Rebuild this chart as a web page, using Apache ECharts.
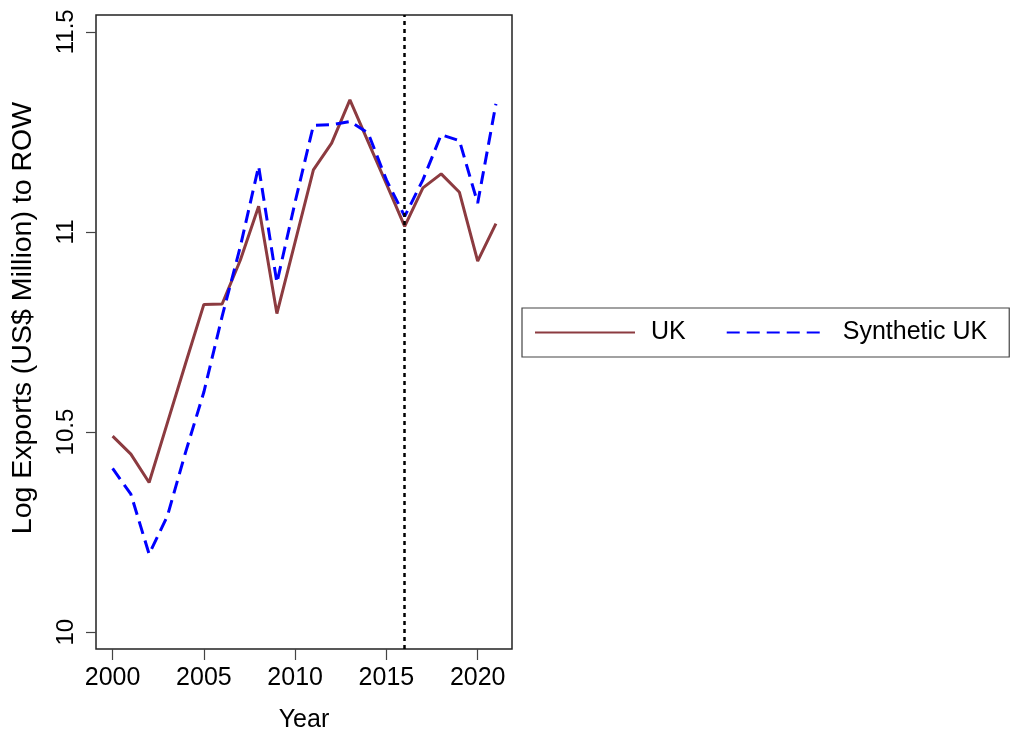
<!DOCTYPE html>
<html>
<head>
<meta charset="utf-8">
<script src="https://cdn.jsdelivr.net/npm/echarts@6/dist/echarts.min.js"></script>
<style>
  html, body { margin: 0; padding: 0; background: #fff; }
  #chart { width: 1011px; height: 738px; }
</style>
</head>
<body>
<div id="chart"></div>
<script>
var years = [2000, 2001, 2002, 2003, 2004, 2005, 2006, 2007, 2008, 2009, 2010,
  2011, 2012, 2013, 2014, 2015, 2016, 2017, 2018, 2019, 2020, 2021]
var uk = [10.49, 10.445, 10.374, 10.523, 10.672, 10.819, 10.82, 10.93, 11.064, 10.796, 10.975,
  11.155, 11.222, 11.33, 11.225, 11.12, 11.014, 11.11, 11.145, 11.099, 10.927, 11.021]
var synthUk = [10.409, 10.345, 10.195, 10.29, 10.45, 10.6, 10.789, 10.964, 11.164, 10.873, 11.075,
  11.266, 11.268, 11.276, 11.247, 11.13, 11.039, 11.13, 11.243, 11.228, 11.072, 11.32]
var xTicks = [2000, 2005, 2010, 2015, 2020]
var yTicks = [10, 10.5, 11, 11.5]
var treatYear = 2016

var font = 'Liberation Sans, Arial, sans-serif'

function pairs(vals) {
  return years.map(function (y, i) { return [y, vals[i]] })
}

var myChart = echarts.init(document.getElementById('chart'))
myChart.setOption({
  animation: false,
  backgroundColor: '#fff',
  textStyle: { fontFamily: font, color: '#000' },
  grid: {
    left: 96, top: 15, right: 499, bottom: 88,
    show: true, borderColor: '#222', borderWidth: 1.5, backgroundColor: '#fff'
  },
  legend: {
    left: 522, top: 308,
    data: ['UK', 'Synthetic UK'],
    itemWidth: 100, itemHeight: 14, itemGap: 40,
    padding: [12, 22, 12, 12],
    borderColor: '#444', borderWidth: 1.2,
    itemStyle: { opacity: 0 },
    textStyle: { fontFamily: font, fontSize: 25, color: '#000', padding: [0, 0, 0, 11] }
  },
  xAxis: {
    type: 'value',
    min: 1999.09, max: 2021.88,
    name: 'Year', nameLocation: 'middle', nameGap: 59,
    nameTextStyle: { fontFamily: font, fontSize: 25, color: '#000' },
    axisLine: { show: false },
    splitLine: { show: false },
    axisTick: { show: true, length: 11, customValues: xTicks, lineStyle: { color: '#444', width: 1.2 } },
    axisLabel: {
      customValues: xTicks, fontSize: 25, color: '#000', margin: 17, fontFamily: font,
      formatter: function (v) { return String(v) }
    }
  },
  yAxis: {
    type: 'value',
    min: 9.958, max: 11.542,
    name: 'Log Exports (US$ Million) to ROW', nameLocation: 'middle', nameGap: 58,
    nameTextStyle: { fontFamily: font, fontSize: 28.5, color: '#000', padding: [0, 0, 0, 28] },
    axisLine: { show: false },
    splitLine: { show: false },
    axisTick: { show: true, length: 10, customValues: yTicks, lineStyle: { color: '#444', width: 1.2 } },
    axisLabel: {
      customValues: yTicks, rotate: 90, fontSize: 24, color: '#000', margin: 18, fontFamily: font,
      formatter: function (v) { return String(v) }
    }
  },
  series: [
    {
      name: 'UK', type: 'line', data: pairs(uk),
      symbol: 'none', color: '#8c3b40',
      lineStyle: { color: '#8c3b40', width: 3 },
      markLine: {
        silent: true, symbol: 'none', label: { show: false },
        lineStyle: { color: '#000', type: [4, 4], width: 2.5 },
        data: [{ xAxis: treatYear }]
      }
    },
    {
      name: 'Synthetic UK', type: 'line', data: pairs(synthUk),
      symbol: 'none', color: '#0000ff',
      lineStyle: { color: '#0000ff', width: 3, type: [13, 7] }
    }
  ]
})
</script>
</body>
</html>
